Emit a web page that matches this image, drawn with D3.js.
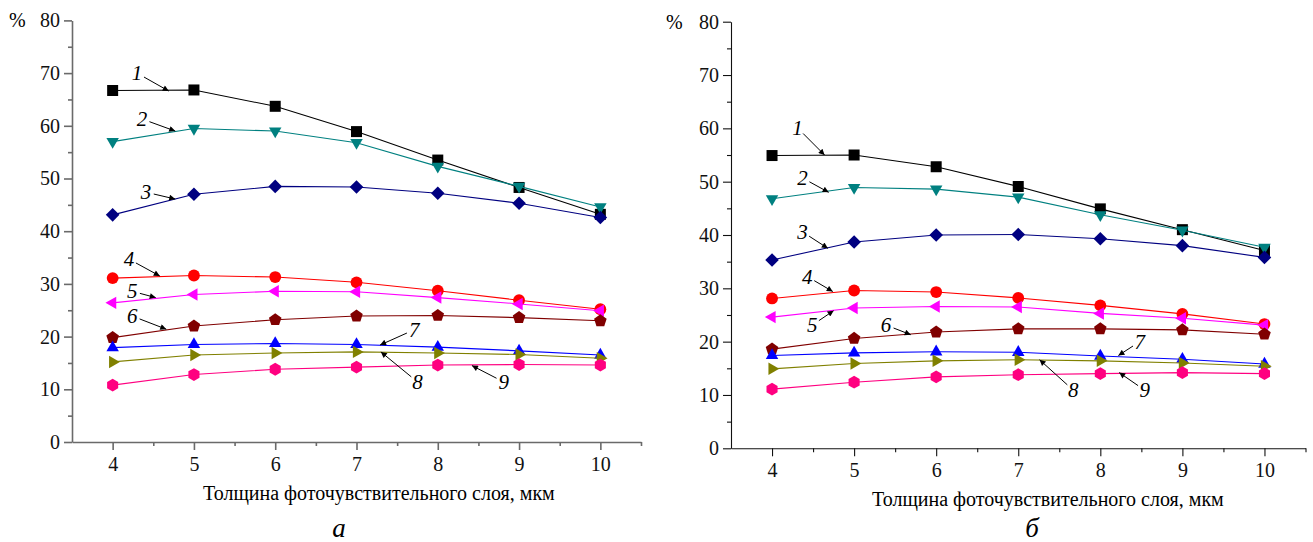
<!DOCTYPE html>
<html>
<head>
<meta charset="utf-8">
<script src="https://cdn.jsdelivr.net/npm/d3@7"></script>
<style>
  body { margin: 0; background: #fff; }
  text { font-family: "Liberation Serif", serif; }
</style>
</head>
<body>
<svg id="chart" width="1313" height="542"></svg>
<script>
// ---- data ----
var thickness = [4, 5, 6, 7, 8, 9, 10];
var yTicks = [0, 10, 20, 30, 40, 50, 60, 70, 80];
var curveNames = ["1", "2", "3", "4", "5", "6", "7", "8", "9"];

// panel "а"
var valuesA = [
  [66.7, 66.8, 63.7, 58.9, 53.5, 48.3, 43.2],
  [57.0, 59.5, 59.0, 56.8, 52.3, 48.5, 44.6],
  [43.1, 47.0, 48.5, 48.4, 47.2, 45.3, 42.6],
  [31.1, 31.6, 31.3, 30.3, 28.7, 26.9, 25.2],
  [26.4, 28.0, 28.6, 28.5, 27.4, 26.2, 24.9],
  [19.8, 22.0, 23.2, 23.9, 24.0, 23.6, 23.0],
  [17.9, 18.5, 18.7, 18.5, 18.0, 17.3, 16.5],
  [15.2, 16.5, 16.9, 17.1, 16.9, 16.6, 15.9],
  [10.8, 12.8, 13.8, 14.2, 14.6, 14.7, 14.6]
];
// panel "б"
var valuesB = [
  [54.9, 55.0, 52.8, 49.1, 44.9, 41.0, 37.1],
  [46.8, 48.9, 48.6, 47.1, 43.8, 40.9, 37.7],
  [35.3, 38.7, 40.0, 40.1, 39.3, 38.0, 35.8],
  [28.1, 29.6, 29.3, 28.2, 26.8, 25.2, 23.3],
  [24.6, 26.3, 26.6, 26.5, 25.3, 24.4, 23.1],
  [18.6, 20.6, 21.8, 22.4, 22.4, 22.2, 21.4],
  [17.4, 17.9, 18.1, 18.0, 17.3, 16.7, 15.8],
  [14.9, 15.9, 16.4, 16.6, 16.4, 16.0, 15.4],
  [11.1, 12.4, 13.4, 13.8, 14.0, 14.2, 14.0]
];

// curve number callouts: [label x, label y, arrow tip x, arrow tip y] in data units
var calloutsA = [
  [4.30, 70.0, 4.69, 66.6],
  [4.36, 61.3, 4.77, 59.0],
  [4.41, 47.4, 4.77, 46.1],
  [4.20, 34.7, 4.58, 31.5],
  [4.24, 28.6, 4.53, 27.4],
  [4.24, 23.9, 4.66, 21.4],
  [7.71, 21.3, 7.29, 18.4],
  [7.75, 11.4, 7.30, 17.1],
  [8.81, 11.4, 8.42, 14.5]
];
var calloutsB = [
  [4.31, 60.1, 4.64, 55.0],
  [4.37, 50.7, 4.69, 48.0],
  [4.37, 40.6, 4.68, 37.5],
  [4.43, 32.2, 4.74, 29.4],
  [4.49, 23.1, 4.75, 25.8],
  [5.39, 23.1, 5.69, 21.3],
  [8.48, 20.0, 8.22, 17.4],
  [7.67, 10.9, 7.26, 16.6],
  [8.54, 10.9, 8.23, 14.2]
];

var xTitle = "Толщина фоточувствительного слоя, мкм";

// ---- styles ----
var serif = '"Liberation Serif", serif';
var colors = ["#000000", "#008080", "#000080", "#ff0000", "#ff00ff",
              "#800000", "#0000ff", "#808000", "#ff0080"];

function polygon(n, r, rot) {
  var pts = d3.range(n).map(function(i) {
    var a = rot + i * 2 * Math.PI / n;
    return [(r * Math.sin(a)).toFixed(2), (-r * Math.cos(a)).toFixed(2)];
  });
  return "M" + pts.join("L") + "Z";
}
var shapes = [
  "M-5.5,-5.5H5.5V5.5H-5.5Z",        // square
  polygon(3, 7.2, Math.PI),          // triangle down
  polygon(4, 6.8, 0),                // diamond
  d3.symbol(d3.symbolCircle, 110)(), // circle
  polygon(3, 7.2, -Math.PI / 2),     // triangle left
  polygon(5, 6.6, 0),                // pentagon
  polygon(3, 7.2, 0),                // triangle up
  polygon(3, 7.2, Math.PI / 2),      // triangle right
  polygon(6, 6.4, 0)                 // hexagon
];

var svg = d3.select("#chart");

svg.append("defs").append("marker")
  .attr("id", "arrow")
  .attr("viewBox", "0 0 10 10")
  .attr("refX", 10).attr("refY", 5)
  .attr("markerWidth", 9).attr("markerHeight", 6)
  .attr("markerUnits", "userSpaceOnUse")
  .attr("orient", "auto")
  .append("path")
  .attr("d", "M0,0L10,5L0,10Z")
  .attr("fill", "#000");

function drawPanel(p) {
  var x = d3.scaleLinear().domain([3.5, 10.5]).range([p.x0, p.x1]);
  var y = d3.scaleLinear().domain([0, 80]).range([p.y0, p.y1]);
  var g = svg.append("g");

  // minor ticks
  g.append("g")
    .attr("transform", "translate(0," + p.y0 + ")")
    .call(d3.axisBottom(x).tickValues(d3.range(4.5, 10.6, 1)).tickSize(4).tickFormat(""))
    .call(function(a) { a.select(".domain").remove(); });
  g.append("g")
    .attr("transform", "translate(" + p.x0 + ",0)")
    .call(d3.axisLeft(y).tickValues(d3.range(5, 80, 10)).tickSize(4).tickFormat(""))
    .call(function(a) { a.select(".domain").remove(); });

  // major axes
  g.append("g")
    .attr("transform", "translate(0," + p.y0 + ")")
    .call(d3.axisBottom(x).tickValues(thickness).tickFormat(d3.format("d"))
      .tickSize(8).tickSizeOuter(0).tickPadding(7));
  g.append("g")
    .attr("transform", "translate(" + p.x0 + ",0)")
    .call(d3.axisLeft(y).tickValues(yTicks).tickFormat(d3.format("d"))
      .tickSize(8).tickSizeOuter(0).tickPadding(4));

  g.selectAll(".domain, .tick line").attr("stroke", p.axisColor).attr("stroke-width", p.axisWidth);
  g.selectAll("g").attr("font-family", null).attr("font-size", null);
  g.selectAll(".tick text")
    .style("font-family", serif)
    .style("font-size", "20px")
    .attr("fill", "#111");

  // curves
  var line = d3.line()
    .x(function(d, i) { return x(thickness[i]); })
    .y(function(d) { return y(d); });

  p.values.forEach(function(vals, k) {
    var s = g.append("g");
    s.append("path")
      .datum(vals)
      .attr("fill", "none")
      .attr("stroke", colors[k])
      .attr("stroke-width", 1.1)
      .attr("d", line);
    s.selectAll("path.pt")
      .data(vals)
      .enter().append("path")
      .attr("class", "pt")
      .attr("d", shapes[k])
      .attr("fill", colors[k])
      .attr("transform", function(d, i) {
        return "translate(" + x(thickness[i]) + "," + y(d) + ")";
      });
  });

  // callouts
  p.callouts.forEach(function(c, k) {
    var lx = x(c[0]), ly = y(c[1]), tx = x(c[2]), ty = y(c[3]);
    var dx = tx - lx, dy = ty - ly, len = Math.sqrt(dx * dx + dy * dy);
    g.append("line")
      .attr("x1", lx + dx / len * 8).attr("y1", ly + dy / len * 8)
      .attr("x2", tx).attr("y2", ty)
      .attr("stroke", "#000").attr("stroke-width", 1)
      .attr("marker-end", "url(#arrow)");
    g.append("text")
      .attr("x", lx).attr("y", ly + 7)
      .attr("text-anchor", "middle")
      .style("font-family", serif)
      .style("font-style", "italic")
      .style("font-size", "21px")
      .text(curveNames[k]);
  });

  // labels
  g.append("text")
    .attr("x", p.pctX).attr("y", p.y1 + 7)
    .style("font-family", serif)
    .style("font-size", "20px")
    .text("%");
  g.append("text")
    .attr("x", p.titleX).attr("y", p.y0 + 58)
    .style("font-family", serif)
    .style("font-size", "20px")
    .text(xTitle);
  g.append("text")
    .attr("x", p.letterX).attr("y", 537)
    .attr("text-anchor", "middle")
    .style("font-family", serif)
    .style("font-style", "italic")
    .style("font-size", "27px")
    .text(p.letter);
}

drawPanel({ x0: 72, x1: 641, y0: 442, y1: 20.4, values: valuesA, callouts: calloutsA,
            axisColor: "#6a6a6a", axisWidth: 1.6, pctX: 9, titleX: 203, letterX: 339, letter: "а" });
drawPanel({ x0: 731, x1: 1305.5, y0: 448.3, y1: 21.7, values: valuesB, callouts: calloutsB,
            axisColor: "#111", axisWidth: 1.1, pctX: 666, titleX: 872, letterX: 1032, letter: "б" });
</script>
</body>
</html>
